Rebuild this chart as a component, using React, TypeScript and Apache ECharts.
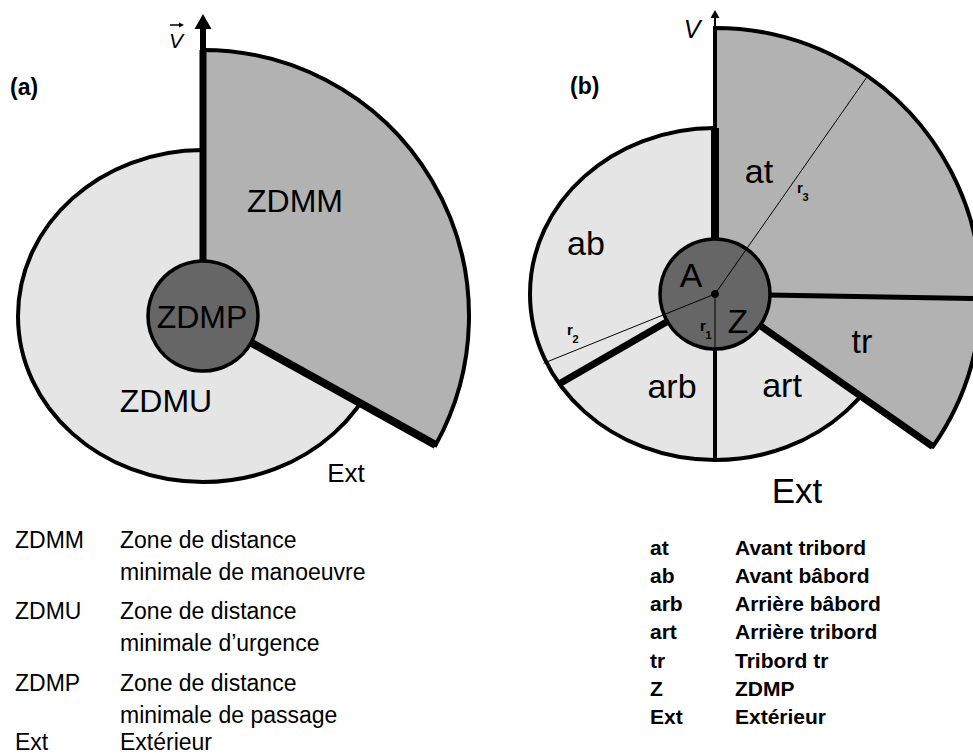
import React, { useEffect, useRef } from 'react';
import * as echarts from 'echarts';

const W = 973;
const H = 755;
const FONT = '"Liberation Sans", Arial, Helvetica, sans-serif';

// ---------- geometry of the two diagrams (units of the hidden value axes) ----------
const panelLabels = ['(a)', '(b)'];
const panelCenters = [[203, 316], [715, 294]];
const zdmpRadius = [55, 55];
const ellipseRadii = [[185, 166], [185, 166]];
const sectorRadius = [266, 266];
const sectorEndAngle = [-29, -35]; // sector runs clockwise from 90° (ahead) to this angle

// zone boundaries: panel, angle (deg), outer end, width
const dividerPanel = [0, 0, 1, 1, 1, 1, 1];
const dividerAngle = [90, -29, 90, -35, 210, 270, -1];
const dividerEnd = ['arc', 'arc', 'ellipse', 'arc', 'ellipse', 'ellipse', 'arc'];
const dividerWidth = [7, 8, 8, 7, 7, 4, 5];

// radius guides of panel (b)
const radiusNames = ['1', '2', '3'];
const radiusAngle = [270, 202, 55];
const radiusEnd = ['zdmp', 'ellipse', 'arc'];

// heading vector arrows
const arrowReach = [288, 277];
const arrowHead = [[15, 17], [8, 9]];
const arrowShaftWidth = [6, 2];

// ---------- texts ----------
const zoneLabelsA = ['ZDMM', 'ZDMP', 'ZDMU', 'Ext'];
const zoneLabelsB = ['at', 'ab', 'A', 'Z', 'tr', 'arb', 'art', 'Ext'];
const legendCodesA = ['ZDMM', 'ZDMU', 'ZDMP', 'Ext'];
const legendTextA = [
  ['Zone de distance', 'minimale de manoeuvre'],
  ['Zone de distance', 'minimale d\u2019urgence'],
  ['Zone de distance', 'minimale de passage'],
  ['Extérieur'],
];
const legendCodesB = ['at', 'ab', 'arb', 'art', 'tr', 'Z', 'Ext'];
const legendTextB = ['Avant tribord', 'Avant bâbord', 'Arrière bâbord', 'Arrière tribord', 'Tribord tr', 'ZDMP', 'Extérieur'];

const rad = (d: number) => (d * Math.PI) / 180;
const polar = (p: number, ang: number, r: number) => [
  panelCenters[p][0] + r * Math.cos(rad(ang)),
  panelCenters[p][1] - r * Math.sin(rad(ang)),
];
const ellipseReach = (p: number, ang: number) => {
  const c = Math.cos(rad(ang)) / ellipseRadii[p][0];
  const s = Math.sin(rad(ang)) / ellipseRadii[p][1];
  return 1 / Math.sqrt(c * c + s * s);
};
const reach = (p: number, ang: number, end: string) =>
  end === 'arc' ? sectorRadius[p] : end === 'ellipse' ? ellipseReach(p, ang) : zdmpRadius[p];

export default function App() {
  const ref = useRef<HTMLDivElement>(null);

  useEffect(() => {
    document.body.style.margin = '0';
    if (!ref.current) return;
    const chart = echarts.init(ref.current, undefined, { renderer: 'svg' });

    const lineItem = (params: any, api: any) => {
      const a = api.coord([api.value(0), api.value(1)]);
      const b = api.coord([api.value(2), api.value(3)]);
      return {
        type: 'line',
        shape: { x1: a[0], y1: a[1], x2: b[0], y2: b[1] },
        style: { stroke: '#000', lineWidth: api.value(4), lineCap: 'butt' },
      };
    };

    const dividerData = dividerAngle.map((ang, i) => {
      const p = dividerPanel[i];
      const s = polar(p, ang, zdmpRadius[p] - 2);
      const e = polar(p, ang, reach(p, ang, dividerEnd[i]));
      return [s[0], s[1], e[0], e[1], dividerWidth[i]];
    });
    const guideData = radiusAngle.map((ang, i) => {
      const s = polar(1, ang, 0);
      const e = polar(1, ang, reach(1, ang, radiusEnd[i]) + (radiusEnd[i] === 'ellipse' ? 3 : 0));
      return [s[0], s[1], e[0], e[1], 1];
    });
    const shaftData = panelCenters.map((c, p) => {
      const e = polar(p, 90, arrowReach[p]);
      return [c[0], c[1], e[0], e[1], arrowShaftWidth[p]];
    });
    const headData = panelCenters.map((c, p) => {
      const base = polar(p, 90, arrowReach[p] - 1);
      return [base[0], base[1], arrowHead[p][0], arrowHead[p][1]];
    });

    // ---- text layout ----
    const T = (
      text: string,
      x: number,
      y: number,
      fontSize: number,
      o: { align?: string; weight?: string; italic?: boolean; baseline?: boolean } = {}
    ) => ({
      type: 'text',
      z: 100,
      x,
      y: o.baseline ? y - 0.3465 * fontSize : y,
      style: {
        text,
        fontSize,
        fontFamily: FONT,
        fontWeight: o.weight || 'normal',
        fontStyle: o.italic ? 'italic' : 'normal',
        fill: '#000',
        align: o.align || 'center',
        textAlign: o.align || 'center',
        verticalAlign: 'middle',
        textVerticalAlign: 'middle',
      },
    });

    const elements: any[] = [];
    // panel tags
    elements.push(T(panelLabels[0], 10, 87, 23, { align: 'left', weight: 'bold' }));
    elements.push(T(panelLabels[1], 570, 86, 23, { align: 'left', weight: 'bold' }));
    // vector V
    elements.push(T('V', 176, 40, 21, { italic: true }));
    elements.push({ type: 'line', z: 100, shape: { x1: 170, y1: 25, x2: 181, y2: 25 }, style: { stroke: '#000', lineWidth: 1.5 } });
    elements.push({ type: 'polygon', z: 100, shape: { points: [[184, 25], [179, 22.5], [179, 27.5]] }, style: { fill: '#000' } });
    elements.push(T('V', 692, 29, 25, { italic: true }));
    // zone labels (a)
    const posA = [[295, 212, 32], [202, 328, 32], [166, 412, 32], [346, 482, 26]];
    zoneLabelsA.forEach((t, i) => elements.push(T(t, posA[i][0], posA[i][1], posA[i][2], { baseline: true })));
    // zone labels (b)
    const posB = [[759, 183, 34], [586, 255, 34], [691, 287, 34], [738, 333, 34], [862, 353, 34], [672, 398, 34], [782, 397, 34], [797, 503, 35]];
    zoneLabelsB.forEach((t, i) => elements.push(T(t, posB[i][0], posB[i][1], posB[i][2], { baseline: true })));
    // radius guide names
    const guidePos = [[700, 331], [567, 335], [797, 193]];
    radiusNames.forEach((n, i) => {
      elements.push(T('r', guidePos[i][0], guidePos[i][1], 15, { align: 'left', baseline: true, weight: 'bold' }));
      elements.push(T(n, guidePos[i][0] + 5.5, guidePos[i][1] + 8, 11, { align: 'left', baseline: true, weight: 'bold' }));
    });
    // legend (a)
    const rowsA = [540, 611, 683, 742];
    legendCodesA.forEach((code, i) => {
      elements.push(T(code, 15, rowsA[i], 23, { align: 'left' }));
      legendTextA[i].forEach((line, j) => elements.push(T(line, 120, rowsA[i] + j * 32, 23, { align: 'left' })));
    });
    // legend (b)
    legendCodesB.forEach((code, i) => {
      const yy = 547 + i * 28.3;
      elements.push(T(code, 650, yy, 21, { align: 'left', weight: 'bold' }));
      elements.push(T(legendTextB[i], 735, yy, 21, { align: 'left', weight: 'bold' }));
    });

    chart.setOption({
      animation: false,
      grid: { left: 0, right: 0, top: 0, bottom: 0, containLabel: false },
      xAxis: { type: 'value', min: 0, max: W, show: false },
      yAxis: { type: 'value', min: 0, max: H, inverse: true, show: false },
      series: [
        {
          name: 'ZDMU',
          type: 'custom',
          z: 1,
          data: panelCenters.map((c, p) => [c[0], c[1], ellipseRadii[p][0], ellipseRadii[p][1]]),
          renderItem: (params: any, api: any) => {
            const c = api.coord([api.value(0), api.value(1)]);
            const s = api.size([api.value(2) * 2, api.value(3) * 2]);
            return {
              type: 'ellipse',
              shape: { cx: c[0], cy: c[1], rx: s[0] / 2, ry: s[1] / 2 },
              style: { fill: '#e5e5e5', stroke: '#000', lineWidth: 4 },
            };
          },
        },
        {
          name: 'ZDMM',
          type: 'custom',
          z: 2,
          data: panelCenters.map((c, p) => [c[0], c[1], sectorRadius[p], sectorEndAngle[p]]),
          renderItem: (params: any, api: any) => {
            const c = api.coord([api.value(0), api.value(1)]);
            const r = api.size([api.value(2) * 2, 0])[0] / 2;
            return {
              type: 'sector',
              shape: { cx: c[0], cy: c[1], r, r0: 0, startAngle: -Math.PI / 2, endAngle: -rad(api.value(3)), clockwise: true },
              style: { fill: '#b2b2b2', stroke: '#000', lineWidth: 4, lineJoin: 'miter' },
            };
          },
        },
        { name: 'shaft', type: 'custom', z: 3, data: shaftData, renderItem: lineItem },
        {
          name: 'head',
          type: 'custom',
          z: 3,
          data: headData,
          renderItem: (params: any, api: any) => {
            const b = api.coord([api.value(0), api.value(1)]);
            const len = api.value(2);
            const w = api.value(3);
            return {
              type: 'polygon',
              shape: { points: [[b[0] - w / 2, b[1]], [b[0] + w / 2, b[1]], [b[0], b[1] - len]] },
              style: { fill: '#000' },
            };
          },
        },
        { name: 'dividers', type: 'custom', z: 4, data: dividerData, renderItem: lineItem },
        {
          name: 'ZDMP',
          type: 'custom',
          z: 5,
          data: panelCenters.map((c, p) => [c[0], c[1], zdmpRadius[p]]),
          renderItem: (params: any, api: any) => {
            const c = api.coord([api.value(0), api.value(1)]);
            const r = api.size([api.value(2) * 2, 0])[0] / 2;
            return {
              type: 'circle',
              shape: { cx: c[0], cy: c[1], r },
              style: { fill: '#666666', stroke: '#000', lineWidth: 3.5 },
            };
          },
        },
        { name: 'guides', type: 'custom', z: 6, data: guideData, renderItem: lineItem },
        {
          name: 'centre',
          type: 'custom',
          z: 7,
          data: [[panelCenters[1][0], panelCenters[1][1]]],
          renderItem: (params: any, api: any) => {
            const c = api.coord([api.value(0), api.value(1)]);
            return { type: 'circle', shape: { cx: c[0], cy: c[1], r: 4 }, style: { fill: '#000' } };
          },
        },
      ],
      graphic: { elements },
    });

    return () => chart.dispose();
  }, []);

  return <div ref={ref} style={{ width: W, height: H, background: '#fff' }} />;
}
